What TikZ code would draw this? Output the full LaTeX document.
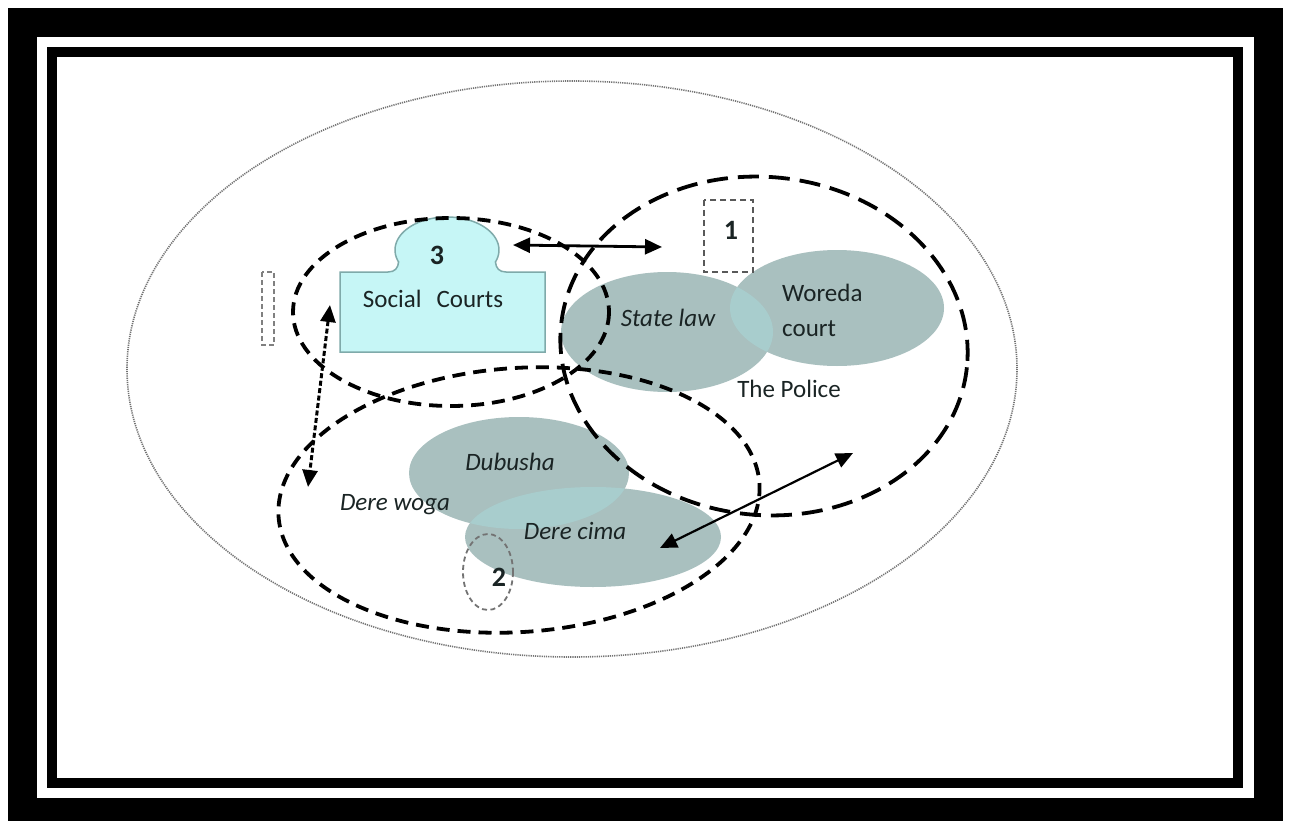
\documentclass[tikz,border=0pt]{standalone}
\usepackage{fontspec}
\setmainfont{Carlito}
\usetikzlibrary{arrows.meta}
\definecolor{gfill}{HTML}{A9C0BF}
\definecolor{gover}{HTML}{A8CDCD}
\definecolor{cfill}{HTML}{C6F6F6}
\definecolor{cedge}{HTML}{7FAAAA}
\definecolor{txt}{HTML}{1A2424}
\begin{document}
\begin{tikzpicture}[x=1pt,y=-1pt,
  lbl/.style={font=\fontsize{25}{30}\selectfont, text=txt, inner sep=0pt},
  ilbl/.style={font=\fontsize{25}{30}\selectfont\itshape, text=txt, inner sep=0pt},
  num/.style={font=\fontsize{28}{32}\selectfont\bfseries, text=txt, inner sep=0pt},
  bigdash/.style={draw=black, line width=3.8pt, dash pattern=on 13pt off 8pt},
  longdash/.style={draw=black, line width=3.8pt, dash pattern=on 21pt off 10pt},
  thindash/.style={draw=black!65, line width=2pt, dash pattern=on 6pt off 4pt},
  grayell/.style={fill=gfill},
  dblarrow/.style={black, line width=2.8pt, {Triangle[length=17pt,width=15pt]}-{Triangle[length=17pt,width=15pt]}},
  dotarrow/.style={black, line width=3pt, dash pattern=on 5pt off 2.5pt, {Triangle[length=17pt,width=15pt]}-{Triangle[length=17pt,width=15pt]}}
]
\useasboundingbox (0,0) rectangle (1290,821);
% frame
\fill[black] (8,8) rectangle (1283,821);
\fill[white] (37,37) rectangle (1254,798);
\fill[black] (47,47) rectangle (1243,788);
\fill[white] (57,57) rectangle (1233,778);
% centres
\coordinate (cbig) at (572,369);
\coordinate (cstate) at (667,332);
\coordinate (cwor) at (837,308);
\coordinate (cdub) at (519,473);
\coordinate (ccima) at (593,537);
\coordinate (cthree) at (451,312);
\coordinate (cone) at (764,346);
\coordinate (ctwo) at (519,500);
\coordinate (csmall) at (488,572);
% outer dotted ellipse
\draw[black!55, line width=1.6pt, dash pattern=on 1.2pt off 1pt] (cbig) ellipse [x radius=445, y radius=288];
% grey ellipses
\fill[grayell] (cstate) ellipse [x radius=106, y radius=60];
\fill[grayell] (cwor) ellipse [x radius=107, y radius=58];
\begin{scope}
  \clip (cstate) ellipse [x radius=106, y radius=60];
  \fill[gover] (cwor) ellipse [x radius=107, y radius=58];
\end{scope}
\fill[grayell] (cdub) ellipse [x radius=110, y radius=56];
\fill[grayell] (ccima) ellipse [x radius=128, y radius=50];
\begin{scope}
  \clip (cdub) ellipse [x radius=110, y radius=56];
  \fill[gover] (ccima) ellipse [x radius=128, y radius=50];
\end{scope}
% social courts shape
\draw[fill=cfill, draw=cedge, line width=1.5pt]
  (340,272) -- (388,272) .. controls (395,272) and (398,268) .. (398.6,262)
  -- plot[domain=158.7:381.3, samples=50] ({447+52*cos(\x)}, {250+33*sin(\x)})
  .. controls (496,268) and (499,272) .. (506,272) -- (545,272) -- (545,352) -- (340,352) -- cycle;
% dashed ellipses
\draw[bigdash] (cthree) ellipse [x radius=158, y radius=94];
\draw[longdash, rotate around={-6:(cone)}] (cone) ellipse [x radius=204, y radius=169];
\draw[bigdash, rotate around={4:(ctwo)}] (ctwo) ellipse [x radius=241, y radius=132];
% small dashed shapes
\draw[thindash] (704,200) rectangle (753,272);
\draw[black!50, line width=2pt, dash pattern=on 5pt off 3pt] (262,272) rectangle (274,345);
\draw[black!55, line width=1.8pt, dash pattern=on 5pt off 3.5pt] (csmall) ellipse [x radius=25, y radius=38];
% arrows
\coordinate (a1) at (513,245);
\coordinate (a2) at (662,247);
\coordinate (b1) at (330,305);
\coordinate (b2) at (308,487);
\coordinate (d1) at (660,548);
\coordinate (d2) at (853,453);
\draw[dblarrow] (a1) -- (a2);
\draw[dotarrow] (b1) -- (b2);
\draw[dblarrow, line width=2.2pt] (d1) -- (d2);
% labels
\node[num] (n3) at (437,255) {3};
\node[lbl] (social) at (433,299) {Social\hspace{0.6em}Courts};
\node[num] (n1) at (731,230) {1};
\node[num] (n2) at (499,577) {2};
\node[ilbl] (state) at (668,318) {State law};
\node[lbl, anchor=west] (woreda) at (782,293) {Woreda};
\node[lbl, anchor=west] (court) at (782,329) {court};
\node[lbl] (police) at (789,389) {The Police};
\node[ilbl] (dubusha) at (510,462) {Dubusha};
\node[ilbl] (derewoga) at (395,505) {Dere woga};
\node[ilbl] (derecima) at (575,531) {Dere cima};
\end{tikzpicture}
\end{document}
